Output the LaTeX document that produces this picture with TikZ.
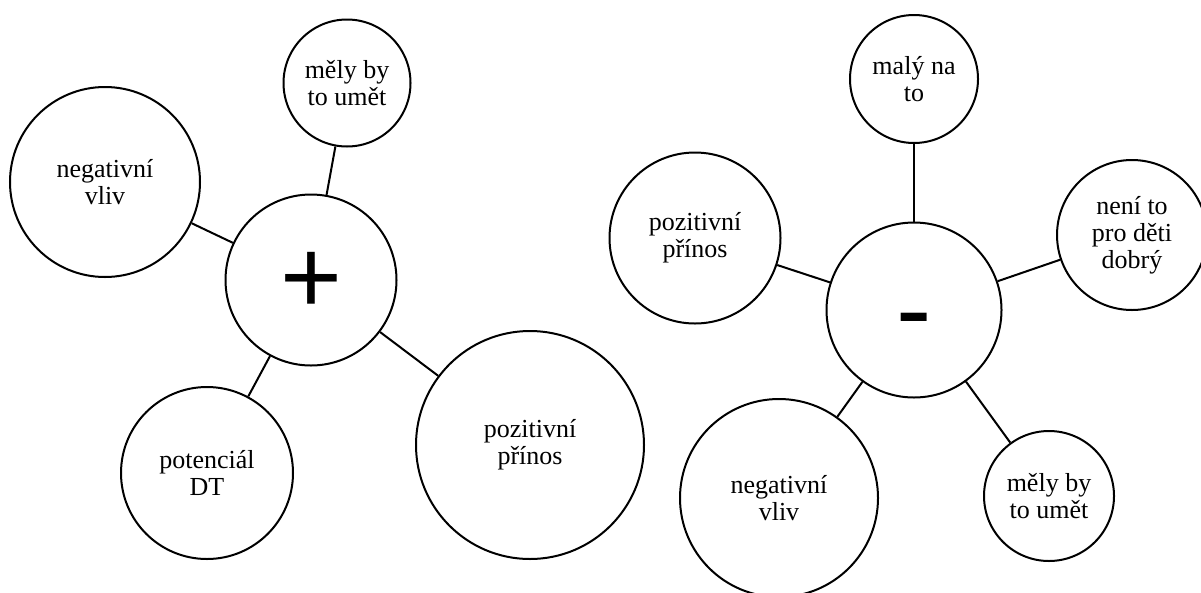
\documentclass[tikz,border=0pt]{standalone}
\usepackage{fontspec}
\setmainfont{Liberation Serif}
\newfontfamily\bubblefont{Liberation Serif}
\newfontfamily\signfont{Liberation Sans}
\begin{document}
\begin{tikzpicture}[x=1pt,y=-1pt,
  bubble/.style={circle,draw=black,line width=2pt,fill=white,inner sep=0pt,
    align=center,font=\bubblefont\fontsize{26}{27}\selectfont},
  hub/.style={bubble,font=\signfont\fontsize{106}{106}\selectfont},
  link/.style={draw=black,line width=2pt}]
\useasboundingbox[fill=white] (0,0) rectangle (1201,592);

% group with the plus sign
\node[hub,minimum size=171pt,text height=66pt,text depth=0pt] (plus) at (311,280) {+};
\node[bubble,minimum size=127pt] (mely1) at (347,83) {měly by\\to umět};
\node[bubble,minimum size=190pt] (neg1) at (105,182) {negativní\\vliv};
\node[bubble,minimum size=172pt] (pot) at (207,473) {potenciál\\DT};
\node[bubble,minimum size=228pt] (poz1) at (530,445) {pozitivní\\přínos};

\draw[link] (plus) -- (mely1);
\draw[link] (plus) -- (neg1);
\draw[link] (plus) -- (pot);
\draw[link] (plus) -- (poz1);

% group with the minus sign
\node[hub,minimum size=175pt,text height=70pt,text depth=0pt] (minus) at (914,310) {-};
\node[bubble,minimum size=128pt] (maly) at (914,79) {malý na\\to};
\node[bubble,minimum size=171pt] (poz2) at (695,238) {pozitivní\\přínos};
\node[bubble,minimum size=150pt] (neni) at (1132,235) {není to\\pro děti\\dobrý};
\node[bubble,minimum size=130pt] (mely2) at (1049,496) {měly by\\to umět};
\node[bubble,minimum size=198pt] (neg2) at (779,498) {negativní\\vliv};

\draw[link] (minus) -- (maly);
\draw[link] (minus) -- (poz2);
\draw[link] (minus) -- (neni);
\draw[link] (minus) -- (neg2);
\draw[link] (minus) -- (mely2);
\end{tikzpicture}
\end{document}
